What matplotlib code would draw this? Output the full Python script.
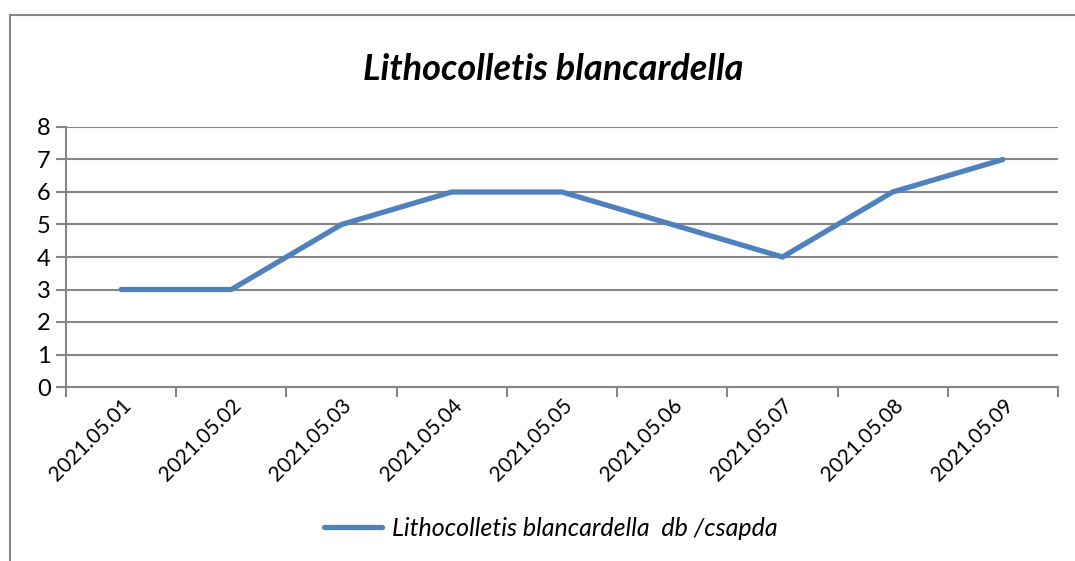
import matplotlib
matplotlib.use('Agg')
import matplotlib.pyplot as plt
from matplotlib.lines import Line2D

plt.rcParams['font.family'] = ['Lato', 'DejaVu Sans']

datumok = ['2021.05.01', '2021.05.02', '2021.05.03', '2021.05.04', '2021.05.05',
           '2021.05.06', '2021.05.07', '2021.05.08', '2021.05.09']
egyedszam = [3, 3, 5, 6, 6, 5, 4, 6, 7]
y_ticks = [0, 1, 2, 3, 4, 5, 6, 7, 8]
cim = 'Lithocolletis blancardella'
jelmagyarazat = 'Lithocolletis blancardella  db /csapda'

racs = '#868686'
kek = '#4F81BD'

fig = plt.figure(figsize=(10.75, 5.61), dpi=100)
ax = fig.add_axes([66 / 1075, 1 - 387 / 561, 992 / 1075, 260 / 561])

x = list(range(len(datumok)))
ax.plot(x, egyedszam, color=kek, linewidth=3.8, solid_capstyle='round',
        solid_joinstyle='miter', label=jelmagyarazat, zorder=3)

ax.set_xlim(-0.5, len(datumok) - 0.5)
ax.set_ylim(0, 8)
ax.set_yticks(y_ticks)
ax.set_yticklabels([str(v) for v in y_ticks], fontsize=17)
ax.yaxis.grid(True, color=racs, linewidth=1.5)
ax.set_axisbelow(True)

# kategoriahatarok a tickek
ax.set_xticks([i - 0.5 for i in range(len(datumok) + 1)])
ax.set_xticklabels([])
ax.set_xticks(x, minor=True)
ax.set_xticklabels(datumok, minor=True, rotation=45, ha='right', va='top',
                   rotation_mode='anchor', fontsize=15)
ax.tick_params(axis='x', which='minor', length=0, pad=6)
ax.tick_params(axis='x', which='major', length=7, width=1.5, color=racs)
ax.tick_params(axis='y', length=7, width=1.5, color=racs, pad=4)

for side in ['top', 'right']:
    ax.spines[side].set_visible(False)
ax.spines['left'].set_color(racs)
ax.spines['left'].set_linewidth(1.5)
ax.spines['bottom'].set_color(racs)
ax.spines['bottom'].set_linewidth(1.5)

fig.text(553 / 1075, 1 - 70 / 561, cim, ha='center', va='center',
         fontsize=26, fontweight='bold', fontstyle='italic')

leg = fig.legend(loc='center', bbox_to_anchor=(551 / 1075, 1 - 528 / 561),
                 frameon=False, fontsize=18, handlelength=2.3, handletextpad=0.4)
for t in leg.get_texts():
    t.set_fontstyle('italic')

# keret
fig.add_artist(Line2D([10 / 1075, 10 / 1075], [0, 1 - 15 / 561],
                      transform=fig.transFigure, color=racs, linewidth=1.5))
fig.add_artist(Line2D([10 / 1075, 1], [1 - 15 / 561, 1 - 15 / 561],
                      transform=fig.transFigure, color=racs, linewidth=1.5))

fig.savefig('out.png', dpi=100)
